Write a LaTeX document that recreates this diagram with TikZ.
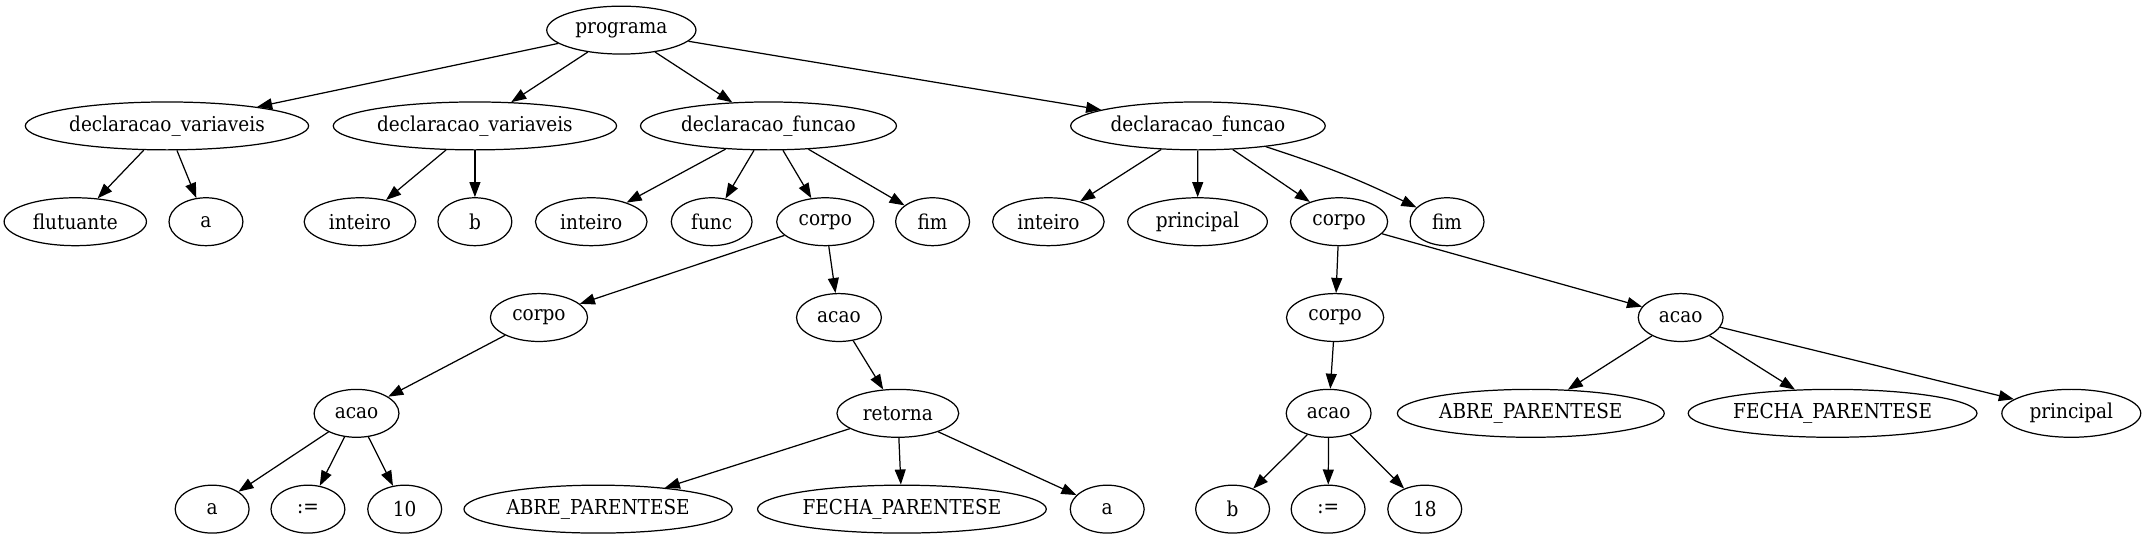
\documentclass[tikz,border=0pt]{standalone}
\usepackage{fontspec}
\setmainfont{DejaVu Serif}[FakeStretch=0.9]
\usetikzlibrary{shapes.geometric,arrows.meta}
\tikzset{
  tn/.style={ellipse, draw, line width=0.9pt, minimum height=35pt, minimum width=54pt, inner sep=0pt, font=\fontsize{15}{18}\selectfont},
  w/.style={minimum width=#1pt},
  edge/.style={line width=0.9pt, -{Triangle[length=11pt,width=8pt]}}
}
\begin{document}
\begin{tikzpicture}[x=1pt,y=-1pt]
\useasboundingbox (0,0) rectangle (1568,394);
% row 0
\node[tn,w=109] (p) at (454,22) {programa};
% row 1
\node[tn,w=207] (dv1) at (122,92) {declaracao\_variaveis};
\node[tn,w=207] (dv2) at (347,92) {declaracao\_variaveis};
\node[tn,w=187] (df1) at (561.5,92) {declaracao\_funcao};
\node[tn,w=186] (df2) at (875.3,92) {declaracao\_funcao};
% row 2
\node[tn,w=104] (dv1a) at (55,162) {flutuante};
\node[tn] (dv1b) at (150.5,162) {a};
\node[tn,w=81.5] (dv2a) at (263,162) {inteiro};
\node[tn] (dv2b) at (347,162) {b};
\node[tn,w=81.5] (df1a) at (432,162) {inteiro};
\node[tn,w=59] (df1b) at (520,162) {func};
\node[tn,w=71] (df1c) at (603,162) {corpo};
\node[tn] (df1d) at (681.4,162) {fim};
\node[tn,w=81.5] (df2a) at (766,162) {inteiro};
\node[tn,w=102] (df2b) at (875,162) {principal};
\node[tn,w=71] (df2c) at (978.4,162) {corpo};
\node[tn] (df2d) at (1057.3,162) {fim};
% row 3
\node[tn,w=71] (c1) at (393.8,232) {corpo};
\node[tn,w=62] (ac1) at (613,232) {acao};
\node[tn,w=71] (c2) at (975.5,232) {corpo};
\node[tn,w=62] (ac2) at (1228,232) {acao};
% row 4
\node[tn,w=62] (ac3) at (260.5,302) {acao};
\node[tn,w=89] (ret) at (656,302) {retorna};
\node[tn,w=62] (ac4) at (970.8,302) {acao};
\node[tn,w=195] (ab2) at (1118.5,302) {ABRE\_PARENTESE};
\node[tn,w=211] (fe2) at (1339,302) {FECHA\_PARENTESE};
\node[tn,w=101.5] (pr2) at (1513.4,302) {principal};
% row 5
\node[tn] (a5) at (155,372) {a};
\node[tn] (as5) at (225,372) {:=};
\node[tn] (n10) at (295.7,372) {10};
\node[tn,w=196] (ab1) at (437,372) {ABRE\_PARENTESE};
\node[tn,w=211] (fe1) at (659,372) {FECHA\_PARENTESE};
\node[tn] (a6) at (809,372) {a};
\node[tn] (b5) at (900.6,372) {b};
\node[tn] (as6) at (970.4,372) {:=};
\node[tn] (n18) at (1041,372) {18};
% edges
\foreach \s/\t in {p/dv1,p/dv2,p/df1,p/df2,
  dv1/dv1a,dv1/dv1b,dv2/dv2a,dv2/dv2b,
  df1/df1a,df1/df1b,df1/df1c,df1/df1d,
  df2/df2a,df2/df2b,df2/df2c,
  df1c/c1,df1c/ac1,df2c/c2,df2c/ac2,
  c1/ac3,ac1/ret,c2/ac4,ac2/ab2,ac2/fe2,ac2/pr2,
  ac3/a5,ac3/as5,ac3/n10,ret/ab1,ret/fe1,ret/a6,
  ac4/b5,ac4/as6,ac4/n18}
  \draw[edge] (\s) -- (\t);
\draw[edge] (df2) to[bend left=4] (df2d);
\end{tikzpicture}
\end{document}
